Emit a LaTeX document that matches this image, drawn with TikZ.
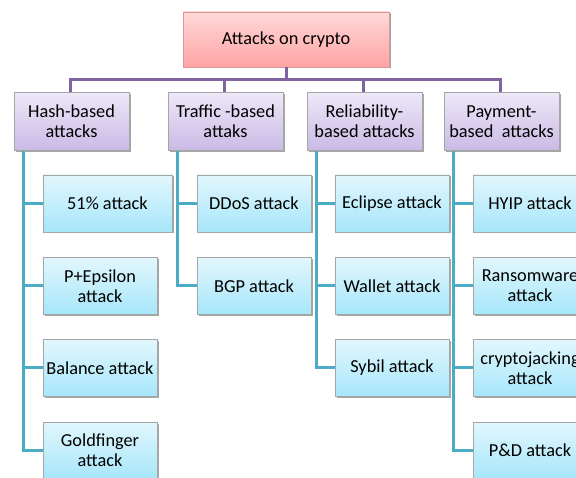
\documentclass[tikz,border=0pt]{standalone}
\usepackage{fontspec}
\setmainfont{Carlito}
\usetikzlibrary{shadows}
\definecolor{purp}{HTML}{8064A2}
\definecolor{tealc}{HTML}{4BACC6}
\definecolor{rootT}{HTML}{FFD9D9}
\definecolor{rootB}{HTML}{FFA3A3}
\definecolor{catT}{HTML}{EEE8F8}
\definecolor{catB}{HTML}{C9BAE5}
\definecolor{leafT}{HTML}{E2F7FD}
\definecolor{leafB}{HTML}{A6E6FA}
\definecolor{edge}{HTML}{A6A6A6}
\tikzset{
  base/.style={draw=edge, line width=0.6pt, align=center, inner sep=1pt,
    font=\fontsize{18.3}{20}\selectfont, text=black,
    drop shadow={shadow xshift=1.5pt, shadow yshift=-1.5pt, opacity=0.35, fill=black}},
  rootbox/.style={base, draw=rootB!70!gray, top color=rootT, bottom color=rootB,
    minimum width=206pt, minimum height=55pt},
  catbox/.style={base, top color=catT, bottom color=catB,
    minimum width=115pt, minimum height=58.5pt},
  leafbox/.style={base, top color=leafT, bottom color=leafB,
    minimum width=114pt, minimum height=57pt},
  purpline/.style={draw=purp, line width=3pt},
  tealline/.style={draw=tealc, line width=3pt},
}
\begin{document}
\begin{tikzpicture}[x=1pt, y=-1pt]
\useasboundingbox (0,0) rectangle (576,478);
% root
\node[rootbox] (root) at (286,39.5) {Attacks on crypto};
% categories
\node[catbox] (hash) at (71.5,121.5) {Hash-based\\attacks};
\node[catbox] (traf) at (225.5,121.5) {Traffic -based\\attaks};
\node[catbox] (rel) at (364.5,121.5) {Reliability-\\based attacks};
\node[catbox] (pay) at (501.5,121.5) {Payment-\\based\ \ attacks};
% leaves
\node[leafbox, minimum width=129pt] (h1) at (107.5,203.5) {51\% attack};
\node[leafbox] (h2) at (100,286) {P+Epsilon\\attack};
\node[leafbox] (h3) at (100,368) {Balance attack};
\node[leafbox] (h4) at (100,450.5) {Goldfinger\\attack};
\node[leafbox] (t1) at (254,203.5) {DDoS attack};
\node[leafbox] (t2) at (254,286) {BGP attack};
\node[leafbox] (r1) at (392,203.5) {Eclipse attack};
\node[leafbox] (r2) at (392,286) {Wallet attack};
\node[leafbox] (r3) at (392,368) {Sybil attack};
\node[leafbox] (p1) at (530,203.5) {HYIP attack};
\node[leafbox] (p2) at (530,286) {Ransomware\\attack};
\node[leafbox] (p3) at (530,368) {cryptojacking\\attack};
\node[leafbox] (p4) at (530,450.5) {P\&D attack};
% connectors
\coordinate (bus) at (0,80);
\foreach \c in {hash,traf,rel,pay}{
  \draw[purpline] (root.south) |- (bus -| root.south) -| ([xshift=-1.5pt]\c.north);
}
\foreach \p/\kids in {hash/{h1,h2,h3,h4},traf/{t1,t2},rel/{r1,r2,r3},pay/{p1,p2,p3,p4}}{
  \foreach \k in \kids {
    \draw[tealline] ([xshift=10pt]\p.south west) |- (\k.west);
  }
}
\end{tikzpicture}
\end{document}
